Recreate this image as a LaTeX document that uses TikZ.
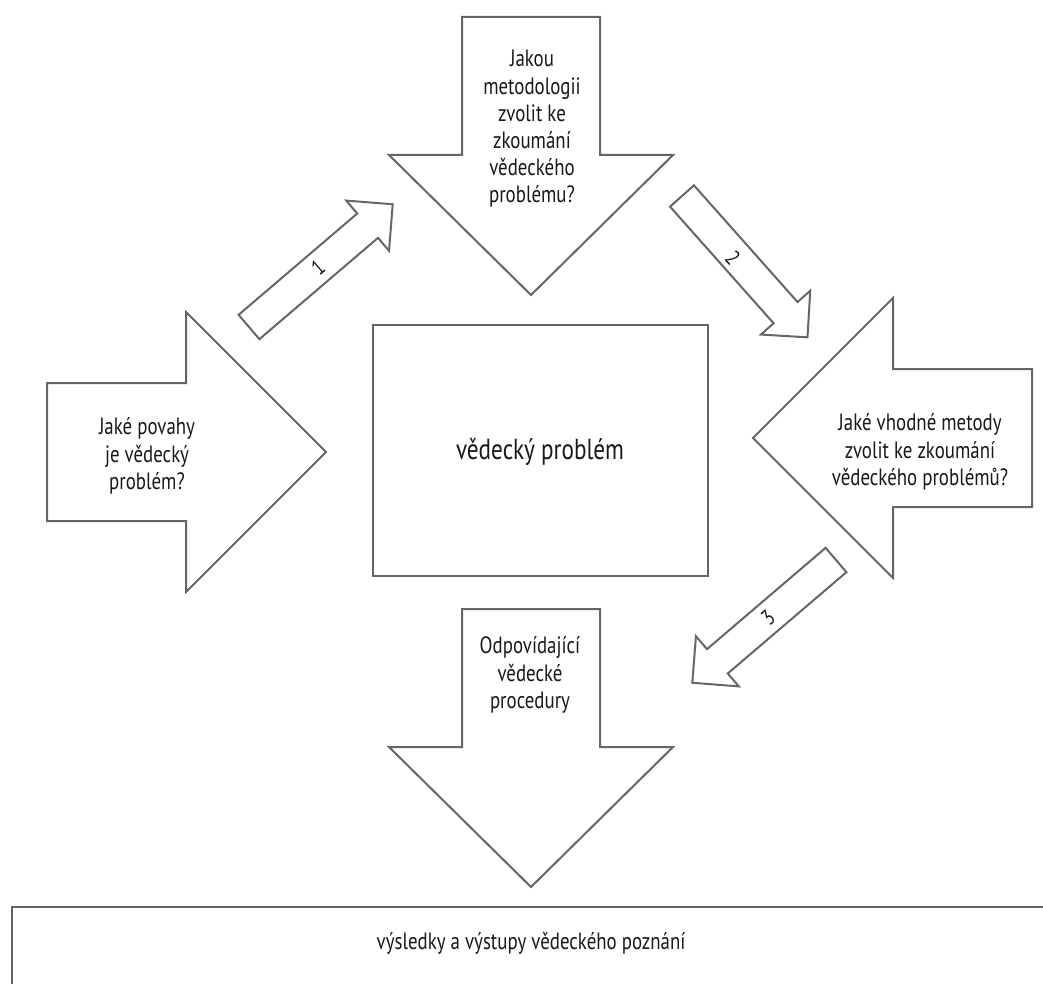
\documentclass[tikz,border=0pt]{standalone}
\usepackage{fontspec}
\setmainfont{PT Sans}[FakeStretch=0.8]

\tikzset{
  outline/.style={draw=black!60, line width=1pt, fill=white, line join=miter},
  asktext/.style={align=center, text=black!90, font=\fontsize{11.8}{13.6}\selectfont},
  bigtext/.style={align=center, text=black!90, font=\fontsize{14.5}{17}\selectfont},
  numtext/.style={text=black!90, font=\fontsize{11}{13}\selectfont, inner sep=0pt}
}

\begin{document}
\begin{tikzpicture}[x=0.5pt, y=-0.5pt]
\useasboundingbox (0, 0) rectangle (1043, 984);
\clip (0, 0) rectangle (1043, 984);

% big arrows
\draw[outline] (462, 17) -- (600, 17) -- (600, 155) -- (673, 155)
               -- (531, 295) -- (389, 155) -- (462, 155) -- cycle;
\draw[outline] (47, 383) -- (186, 383) -- (186, 312) -- (326, 452)
               -- (186, 592) -- (186, 521) -- (47, 521) -- cycle;
\draw[outline] (1032, 369) -- (893, 369) -- (893, 298) -- (753, 438)
               -- (893, 578) -- (893, 507) -- (1032, 507) -- cycle;
\draw[outline] (462, 609) -- (600, 609) -- (600, 747) -- (673, 747)
               -- (531, 887) -- (389, 747) -- (462, 747) -- cycle;

% small arrows
\begin{scope}[shift={(249, 327)}, rotate=40.5]
\draw[outline] (0, -16) -- (156, -16) -- (156, -33) -- (189, 0)
               -- (156, 33) -- (156, 16) -- (0, 16) -- cycle;
\end{scope}
\begin{scope}[shift={(682, 196)}, rotate=-48.4]
\draw[outline] (0, -16) -- (156, -16) -- (156, -33) -- (189, 0)
               -- (156, 33) -- (156, 16) -- (0, 16) -- cycle;
\end{scope}
\begin{scope}[shift={(836, 560)}, rotate=-139.5]
\draw[outline] (0, -16) -- (156, -16) -- (156, -33) -- (189, 0)
               -- (156, 33) -- (156, 16) -- (0, 16) -- cycle;
\end{scope}

% boxes
\draw[outline] (373, 325) rectangle (708, 576);
\draw[outline] (12, 1000) -- (12, 907) -- (1060, 907);

% texts
\node[asktext] (topq) at (532, 129)
  {Jakou\\metodologii\\zvolit ke\\zkoumání\\vědeckého\\problému?};
\node[asktext] (leftq) at (147, 456) {Jaké povahy\\je vědecký\\problém?};
\node[asktext] (rightq) at (920, 452)
  {Jaké vhodné metody\\zvolit ke zkoumání\\vědeckého problémů?};
\node[asktext] (procq) at (530, 675) {Odpovídající\\vědecké\\procedury};
\node[bigtext] (problem) at (540, 452) {vědecký problém};
\node[asktext] (results) at (531, 943) {výsledky a výstupy vědeckého poznání};

\node[numtext, rotate=40.5] (n1) at (318, 267) {1};
\node[numtext, rotate=-48.4] (n2) at (733, 258) {2};
\node[numtext, rotate=40.5] (n3) at (768, 618) {3};
\end{tikzpicture}
\end{document}
